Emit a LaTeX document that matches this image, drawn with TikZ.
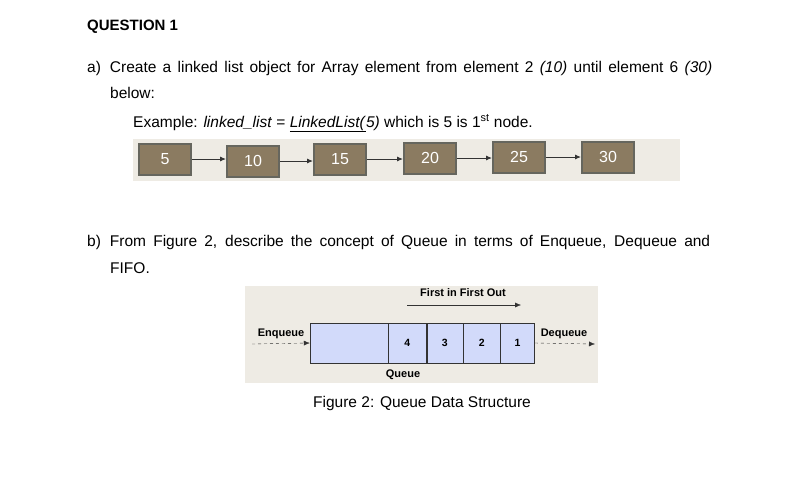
\documentclass[tikz,border=0pt]{standalone}
\usepackage{fontspec}
\setmainfont{Liberation Sans}
\usetikzlibrary{positioning,arrows.meta}
\definecolor{panel}{HTML}{EEEBE4}
\definecolor{boxfill}{HTML}{8B7B61}
\definecolor{boxline}{HTML}{66665E}
\definecolor{qfill}{HTML}{D2DAFA}
\tikzset{
  txt/.style={anchor=base west,inner sep=0pt,font=\fontsize{15.5}{18}\selectfont},
  lnode/.style={draw=boxline,line width=2pt,fill=boxfill,text=white,minimum width=52pt,minimum height=31pt,inner sep=0pt,font=\fontsize{16}{18}\selectfont},
  larrow/.style={-{Latex[length=6pt,width=5pt]},line width=0.9pt,black!80},
  qcell/.style={draw=black!80,fill=qfill,minimum height=40pt,inner sep=0pt,font=\bfseries\fontsize{10.5}{12}\selectfont},
  qlbl/.style={inner sep=0pt,font=\bfseries\fontsize{11}{13}\selectfont}
}
\begin{document}
\begin{tikzpicture}[x=1pt,y=-1pt]
  \useasboundingbox (0,0) rectangle (792,483);
  % question text
  \node[txt,font=\bfseries\fontsize{15}{18}\selectfont] (qtitle) at (87,30) {QUESTION 1};
  \node[txt] (qa) at (87,72) {\makebox[625pt][s]{a)\hspace{9pt}Create a linked list object for Array element from element 2 \textit{(10)} until element 6 \textit{(30)}}};
  \node[txt] (qa2) at (110,98) {below:};
  \node[txt] (ex) at (133,127) {Example: \textit{linked\_list} = \underline{\textit{LinkedList(}}\textit{5)} which is 5 is 1\textsuperscript{st} node.};

  % linked list
  \fill[panel] (133,139) rectangle (680,181);
  \node[lnode] (n5)  at (165,159) {5};
  \node[lnode] (n10) at (253,161) {10};
  \node[lnode] (n15) at (340,159) {15};
  \node[lnode] (n20) at (430,158) {20};
  \node[lnode] (n25) at (519,157) {25};
  \node[lnode] (n30) at (608,157) {30};
  \foreach \a/\b in {n5/n10,n10/n15,n15/n20,n20/n25,n25/n30}
    \draw[larrow] (\a.east) -- (\b.west |- \a.east);

  % second question
  \node[txt] (qb) at (87,246) {\makebox[623pt][s]{b)\hspace{9pt}From Figure 2, describe the concept of Queue in terms of Enqueue, Dequeue and}};
  \node[txt] (qb2) at (110,273) {FIFO.};

  % queue figure
  \fill[panel] (245,286) rectangle (598,383);
  \node[qcell,minimum width=78pt] (qe) at (349,343) {};
  \node[qcell,minimum width=38pt,right=0pt of qe] (q4) {4};
  \node[qcell,minimum width=36pt,right=0pt of q4] (q3) {3};
  \node[qcell,minimum width=37pt,right=0pt of q3] (q2) {2};
  \node[qcell,minimum width=34pt,right=0pt of q2] (q1) {1};
  \node[qlbl] (fifo) at (463,293) {First in First Out};
  \coordinate (fs) at (407,305);
  \coordinate (fe) at (521,305);
  \draw[-{Latex[length=6pt,width=5pt]},black!80] (fs) -- (fe);
  \node[qlbl] (enq) at (281,334) {Enqueue};
  \coordinate (es) at (252,344);
  \draw[dashed,-{Latex[length=6pt,width=5pt]},black!80] (es) -- (qe.west);
  \node[qlbl] (deq) at (564,334) {Dequeue};
  \coordinate (de) at (595,344);
  \draw[dashed,-{Latex[length=6pt,width=5pt]},black!80] (q1.east) -- (de);
  \node[qlbl] (qname) at (403,375) {Queue};
  \node[inner sep=0pt,font=\fontsize{15.5}{18}\selectfont] (cap) at (422,403) {Figure 2: Queue Data Structure};
\end{tikzpicture}
\end{document}
